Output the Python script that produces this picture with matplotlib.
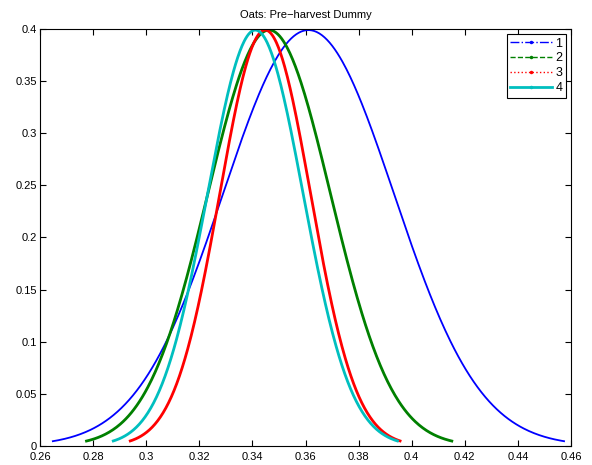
import matplotlib
matplotlib.use("Agg")
import matplotlib.pyplot as plt
from matplotlib.lines import Line2D
import numpy as np

plt.rcParams['font.family'] = ['Liberation Sans', 'DejaVu Sans']
plt.rcParams['font.size'] = 8

# Series: centre and spread of each density curve
labels = ['1', '2', '3', '4']
means = [0.3611, 0.3463, 0.3448, 0.3411]
sds = [0.0322, 0.0231, 0.0171, 0.0180]
colors = ['#0000ff', '#008000', '#ff0000', '#00bfbf']
styles = ['-.', '--', ':', '-']
widths = [1.3, 2.0, 2.0, 2.0]

xticks = [0.26, 0.28, 0.3, 0.32, 0.34, 0.36, 0.38, 0.4, 0.42, 0.44, 0.46]
yticks = [0, 0.05, 0.1, 0.15, 0.2, 0.25, 0.3, 0.35, 0.4]
title = 'Oats: Pre\u2212harvest Dummy'

fig = plt.figure(figsize=(5.92, 4.65), dpi=100)
ax = fig.add_axes([0.0676, 0.0409, 0.8970, 0.8968])

handles = []
for lab, m, s, c, ls, lw in zip(labels, means, sds, colors, styles, widths):
    z = np.linspace(-3, 3, 400)
    x = m + s * z
    y = np.exp(-z ** 2 / 2) / np.sqrt(2 * np.pi)
    ax.plot(x, y, color=c, lw=lw, solid_capstyle='butt')
    handles.append(Line2D([], [], color=c, ls=ls, lw=1.0 if ls != '-' else 2.0,
                          marker='.', markersize=3, label=lab))

ax.set_xlim(0.26, 0.46)
ax.set_ylim(0, 0.4)
ax.set_xticks(xticks)
ax.set_xticklabels([f'{t:g}' for t in xticks])
ax.set_yticks(yticks)
ax.set_yticklabels([f'{t:g}' for t in yticks])
ax.tick_params(direction='in', top=True, right=True, length=4, width=0.8, pad=2)
ax.tick_params(axis='x', pad=4)
for sp in ax.spines.values():
    sp.set_linewidth(0.8)
ax.set_title(title, fontsize=8, pad=8)

leg = ax.legend(handles=handles, loc='upper right', numpoints=1, fancybox=False,
                edgecolor='black', framealpha=1, handlelength=3.3,
                borderaxespad=0.4, labelspacing=0.22, handletextpad=0.3,
                borderpad=0.3, fontsize=9)
leg.get_frame().set_linewidth(0.8)

fig.savefig('out.png', dpi=100)
